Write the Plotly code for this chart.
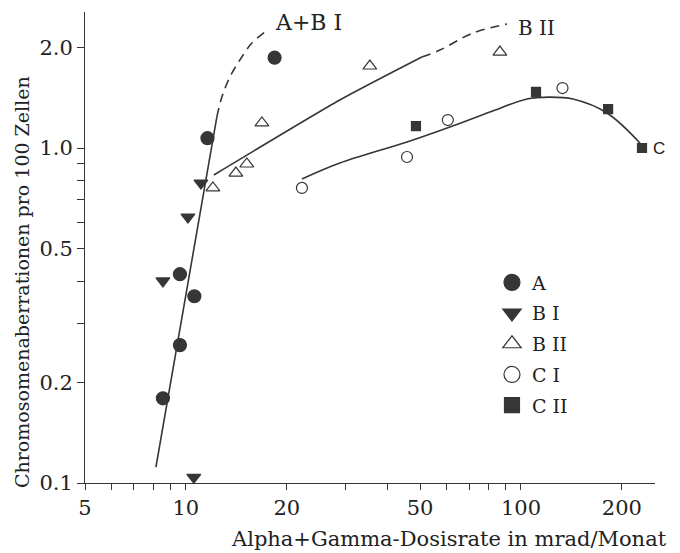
import plotly.graph_objects as go

# ---- data ----
a_x = [11.6, 18.4, 9.6, 10.6, 9.6, 8.54]
a_y = [1.07, 1.86, 0.42, 0.361, 0.258, 0.179]

b1_x = [8.54, 10.14, 11.09, 10.56]
b1_y = [0.401, 0.622, 0.786, 0.104]

b2_x = [12.04, 14.1, 15.2, 16.86, 35.4, 86.5]
b2_y = [0.76, 0.842, 0.896, 1.188, 1.757, 1.934]

c1_x = [22.2, 45.7, 60.5, 133.0]
c1_y = [0.76, 0.94, 1.212, 1.51]

c2_x = [48.6, 110.9, 182.0, 229.7]
c2_y = [1.163, 1.47, 1.307, 1.0]

# fitted curves
ab1_solid_x = [8.14, 12.37]
ab1_solid_y = [0.1116, 1.237]
ab1_dash_x = [12.37, 12.81, 13.53, 14.49, 15.74, 17.21]
ab1_dash_y = [1.237, 1.42, 1.629, 1.831, 2.058, 2.22]

b2_solid_x = [12.12, 28.8, 50.6]
b2_solid_y = [0.831, 1.391, 1.869]
b2_dash_x = [50.6, 57.3, 71.9, 90.8]
b2_dash_y = [1.869, 1.961, 2.204, 2.345]

c_curve_x = [22.2, 28.8, 45.7, 61.4, 80.8, 104.2, 122.0, 143.0, 180.6, 226.5]
c_curve_y = [0.808, 0.902, 1.042, 1.155, 1.28, 1.40, 1.419, 1.40, 1.272, 1.035]

x_tickvals = [5, 6, 7, 8, 9, 10, 20, 30, 40, 50, 60, 70, 80, 90, 100, 200]
x_ticktext = ["5", "", "", "", "", "10", "20", "", "", "50", "", "", "", "", "100", "200"]
y_tickvals = [0.1, 0.2, 0.3, 0.4, 0.5, 0.6, 0.7, 0.8, 0.9, 1.0, 2.0]
y_ticktext = ["0.1", "0.2", "", "", "0.5", "", "", "", "", "1.0", "2.0"]

INK = "#363636"
TXT = "#222222"
FONT = "DejaVu Serif"

fig = go.Figure()

LW = 1.6
DASH = "9px,6px"
fig.add_trace(go.Scatter(x=ab1_solid_x, y=ab1_solid_y, mode="lines",
                         line=dict(color=INK, width=LW), showlegend=False))
fig.add_trace(go.Scatter(x=ab1_dash_x, y=ab1_dash_y, mode="lines",
                         line=dict(color=INK, width=LW, dash=DASH, shape="spline"), showlegend=False))
fig.add_trace(go.Scatter(x=b2_solid_x, y=b2_solid_y, mode="lines",
                         line=dict(color=INK, width=LW, shape="spline", smoothing=0.6), showlegend=False))
fig.add_trace(go.Scatter(x=b2_dash_x, y=b2_dash_y, mode="lines",
                         line=dict(color=INK, width=LW, dash=DASH, shape="spline"), showlegend=False))
fig.add_trace(go.Scatter(x=c_curve_x, y=c_curve_y, mode="lines",
                         line=dict(color=INK, width=LW, shape="spline"), showlegend=False))

series = [
    ("A", a_x, a_y, "circle", 13, 17),
    ("B I", b1_x, b1_y, "triangle-down", 12, 16),
    ("B II", b2_x, b2_y, "triangle-up-open", 12, 16),
    ("C I", c1_x, c1_y, "circle-open", 11, 16),
    ("C II", c2_x, c2_y, "square", 9, 15),
]
for name, xs, ys, sym, size, lsize in series:
    fig.add_trace(go.Scatter(x=xs, y=ys, mode="markers", name=name, showlegend=False,
                             marker=dict(symbol=sym, size=size, color=INK,
                                         line=dict(color=INK, width=1.2))))
for i, (name, xs, ys, sym, size, lsize) in enumerate(series):
    fig.add_trace(go.Scatter(x=[None], y=[None], mode="markers", name=name, showlegend=True,
                             legendgroup="g%d" % i,
                             marker=dict(symbol=sym, size=lsize, color=INK,
                                         line=dict(color=INK, width=1.2))))

fig.update_xaxes(type="log", range=[0.69897, 2.4], showline=True, linecolor=INK, linewidth=1,
                 ticks="outside", ticklen=6, tickcolor=INK, tickwidth=1,
                 tickvals=x_tickvals, ticktext=x_ticktext, showgrid=False, zeroline=False,
                 tickfont=dict(family=FONT, size=21, color=TXT))
fig.update_yaxes(type="log", range=[-1, 0.406], showline=True, linecolor=INK, linewidth=1,
                 ticks="outside", ticklen=7, tickcolor=INK, tickwidth=1,
                 tickvals=y_tickvals, ticktext=y_ticktext, showgrid=False, zeroline=False,
                 tickfont=dict(family=FONT, size=21, color=TXT))

fig.add_annotation(text="A+B I", xref="paper", yref="paper", x=(273 - 85) / 570, y=(483 - 22) / 471,
                   xanchor="left", yanchor="middle", showarrow=False,
                   font=dict(family=FONT, size=22, color=TXT))
fig.add_annotation(text="B II", xref="paper", yref="paper", x=(516 - 85) / 570, y=(483 - 28) / 471,
                   xanchor="left", yanchor="middle", showarrow=False,
                   font=dict(family=FONT, size=20, color=TXT))
fig.add_annotation(text="C", xref="paper", yref="paper", x=(651 - 85) / 570, y=(483 - 148) / 471,
                   xanchor="left", yanchor="middle", showarrow=False,
                   font=dict(family="Liberation Sans", size=17, color=TXT))
fig.add_annotation(text="Alpha+Gamma-Dosisrate in mrad/Monat", xref="paper", yref="paper",
                   x=(449 - 85) / 570, y=(483 - 539) / 471, xanchor="center", yanchor="middle",
                   showarrow=False, font=dict(family=FONT, size=21, color=TXT))
fig.add_annotation(text="Chromosomenaberrationen pro 100 Zellen", xref="paper", yref="paper",
                   x=(22 - 85) / 570, y=(483 - 282) / 471, xanchor="center", yanchor="middle",
                   textangle=-90, showarrow=False, font=dict(family=FONT, size=19, color=TXT))

fig.update_layout(
    width=680, height=553,
    margin=dict(l=85, r=25, t=12, b=70),
    paper_bgcolor="white", plot_bgcolor="white",
    legend=dict(x=0.714, y=0.466, xanchor="left", yanchor="top", bgcolor="rgba(0,0,0,0)",
                font=dict(family=FONT, size=19, color=TXT), itemwidth=30,
                traceorder="grouped", tracegroupgap=3),
)

fig.write_html("out.html")
